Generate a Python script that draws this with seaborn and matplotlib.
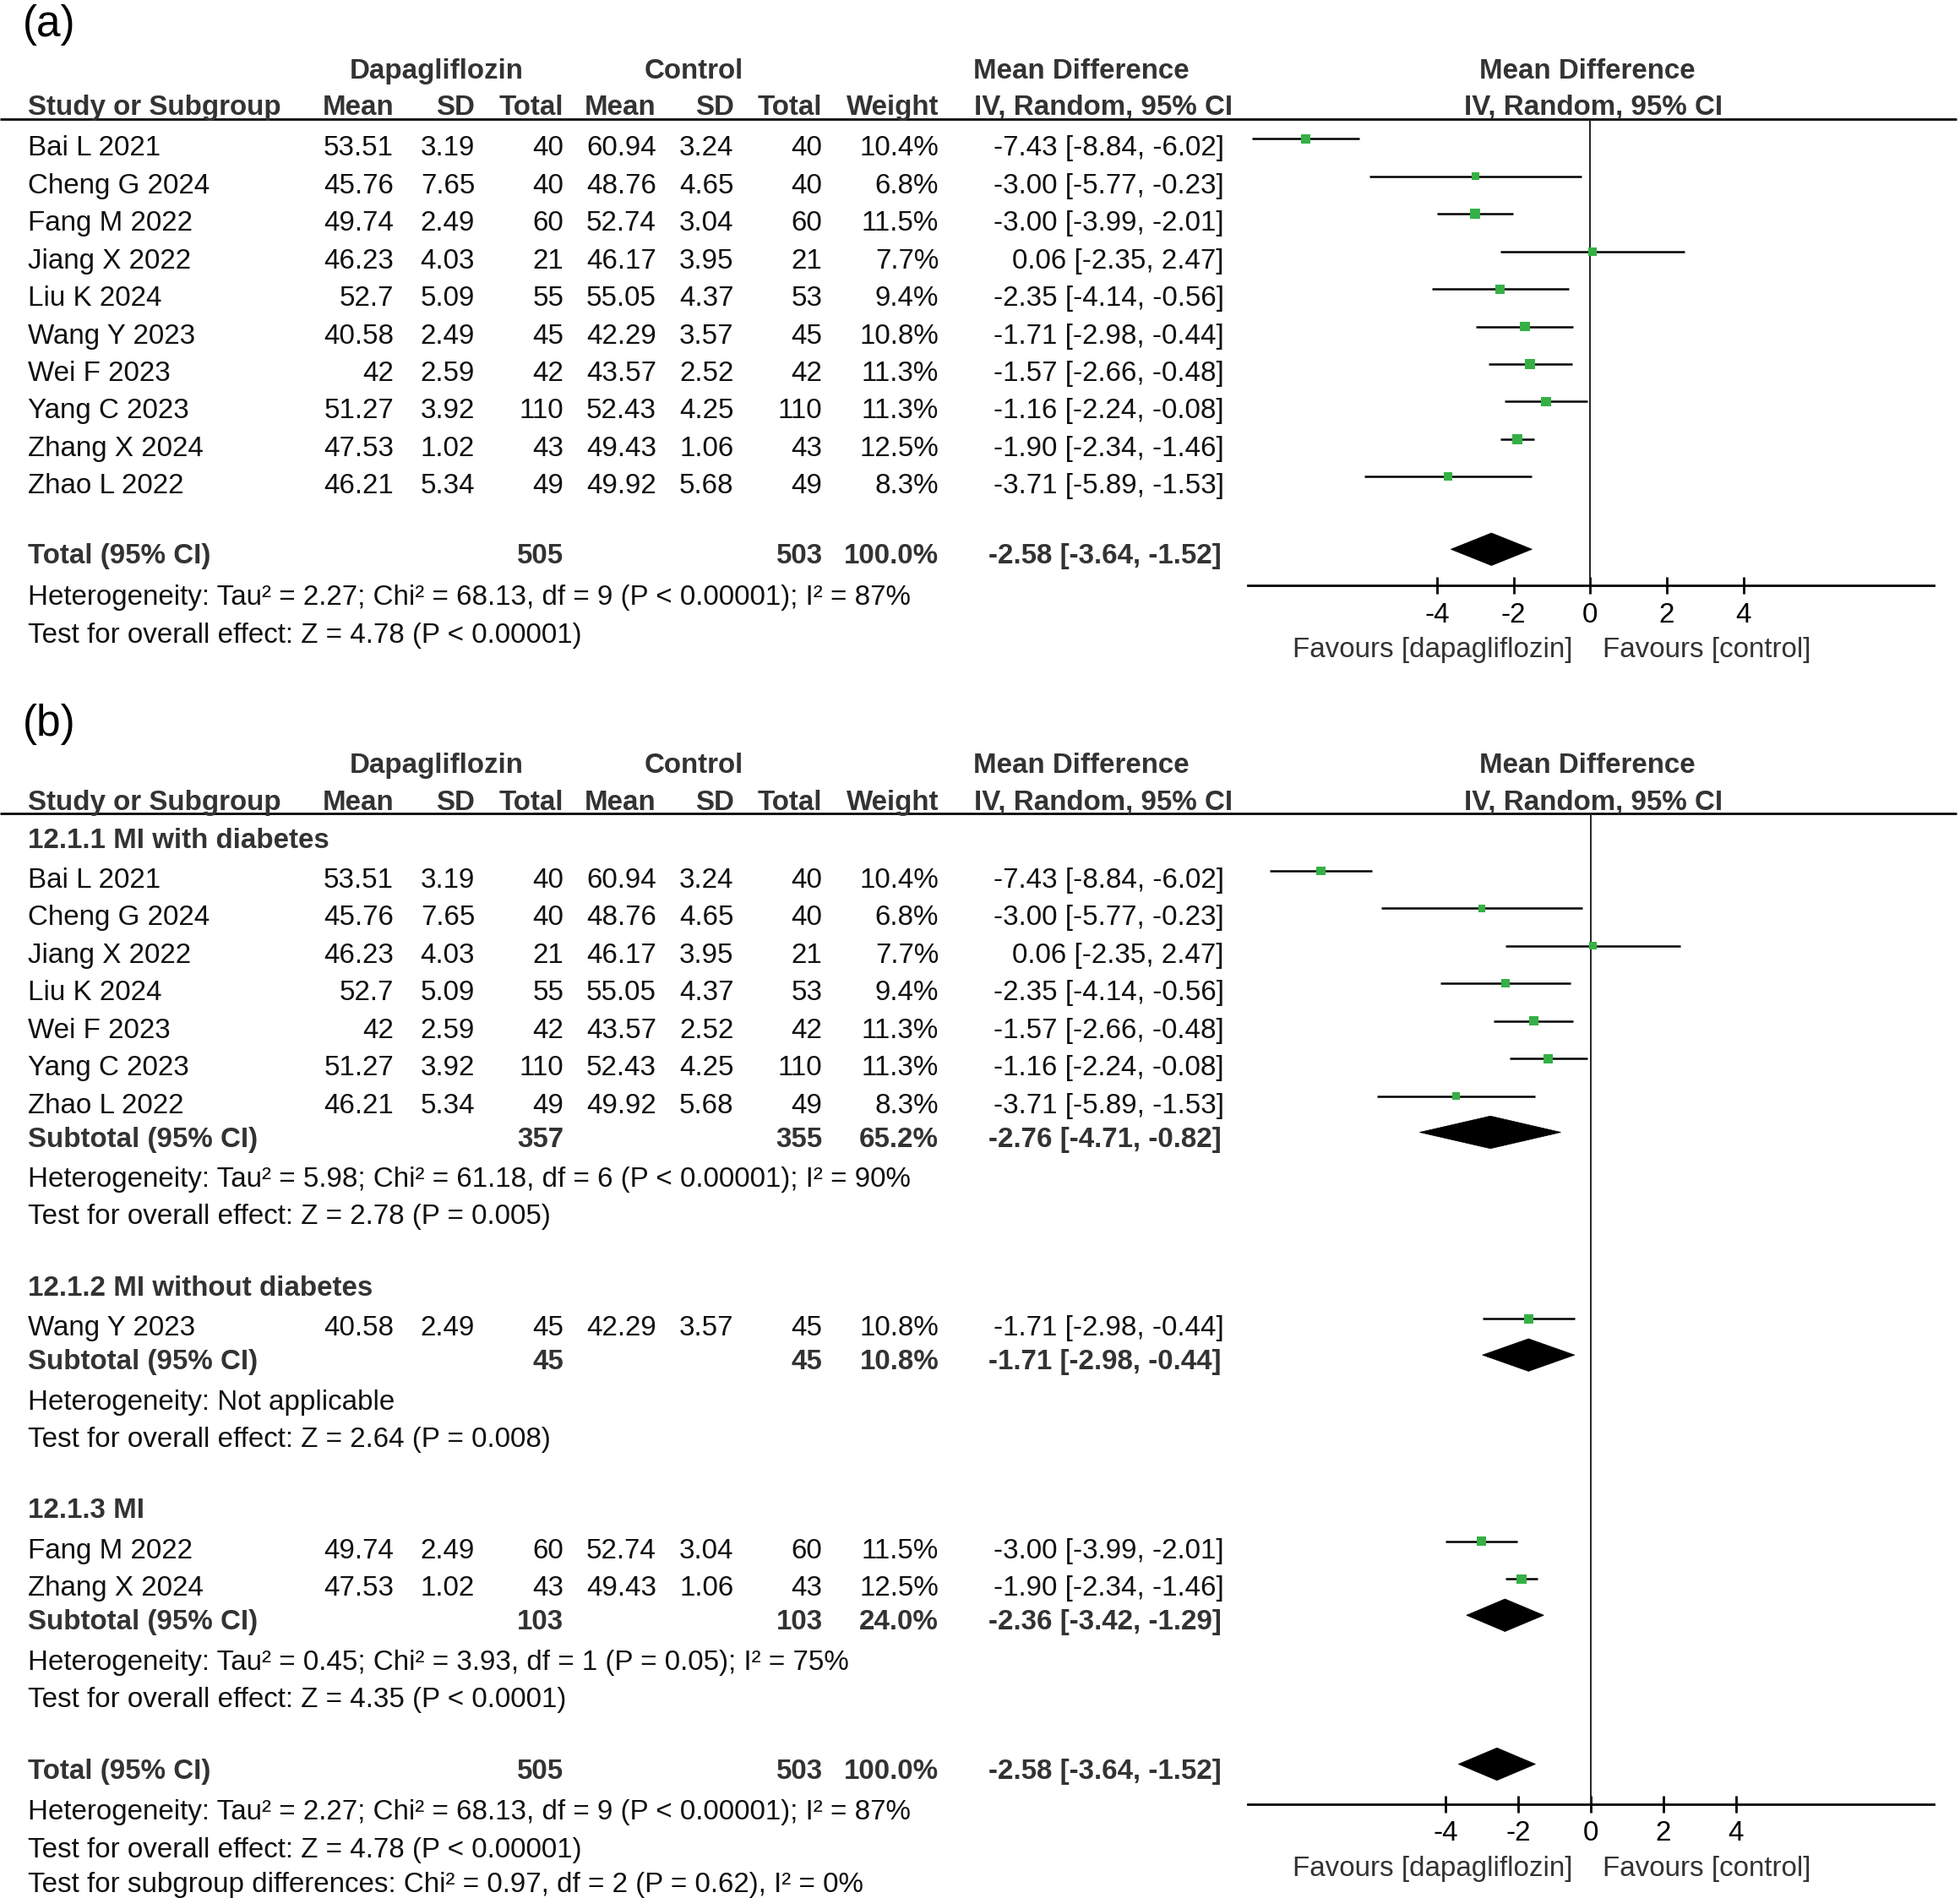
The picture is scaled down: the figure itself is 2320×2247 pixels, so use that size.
import numpy as np
import pandas as pd
import matplotlib
matplotlib.use("Agg")
import matplotlib.pyplot as plt
import seaborn as sns
from matplotlib.patches import Polygon

# ---------------- data ----------------
studies = ["Bai L 2021", "Cheng G 2024", "Fang M 2022", "Jiang X 2022", "Liu K 2024",
           "Wang Y 2023", "Wei F 2023", "Yang C 2023", "Zhang X 2024", "Zhao L 2022"]
dapa_mean = [53.51, 45.76, 49.74, 46.23, 52.7, 40.58, 42, 51.27, 47.53, 46.21]
dapa_sd = [3.19, 7.65, 2.49, 4.03, 5.09, 2.49, 2.59, 3.92, 1.02, 5.34]
dapa_n = [40, 40, 60, 21, 55, 45, 42, 110, 43, 49]
ctrl_mean = [60.94, 48.76, 52.74, 46.17, 55.05, 42.29, 43.57, 52.43, 49.43, 49.92]
ctrl_sd = [3.24, 4.65, 3.04, 3.95, 4.37, 3.57, 2.52, 4.25, 1.06, 5.68]
ctrl_n = [40, 40, 60, 21, 53, 45, 42, 110, 43, 49]
weight = [10.4, 6.8, 11.5, 7.7, 9.4, 10.8, 11.3, 11.3, 12.5, 8.3]
md = [-7.43, -3.00, -3.00, 0.06, -2.35, -1.71, -1.57, -1.16, -1.90, -3.71]
ci_lo = [-8.84, -5.77, -3.99, -2.35, -4.14, -2.98, -2.66, -2.24, -2.34, -5.89]
ci_hi = [-6.02, -0.23, -2.01, 2.47, -0.56, -0.44, -0.48, -0.08, -1.46, -1.53]
subgroup = [0, 0, 2, 0, 0, 1, 0, 0, 2, 0]

sub_names = ["12.1.1 MI with diabetes", "12.1.2 MI without diabetes", "12.1.3 MI"]
sub_n_dapa = [357, 45, 103]
sub_n_ctrl = [355, 45, 103]
sub_weight = [65.2, 10.8, 24.0]
sub_md = [-2.76, -1.71, -2.36]
sub_lo = [-4.71, -2.98, -3.42]
sub_hi = [-0.82, -0.44, -1.29]
sub_het = ["Heterogeneity: Tau² = 5.98; Chi² = 61.18, df = 6 (P < 0.00001); I² = 90%",
           "Heterogeneity: Not applicable",
           "Heterogeneity: Tau² = 0.45; Chi² = 3.93, df = 1 (P = 0.05); I² = 75%"]
sub_test = ["Test for overall effect: Z = 2.78 (P = 0.005)",
            "Test for overall effect: Z = 2.64 (P = 0.008)",
            "Test for overall effect: Z = 4.35 (P < 0.0001)"]

total_n_dapa = 505
total_n_ctrl = 503
total_weight = 100.0
total_md, total_lo, total_hi = -2.58, -3.64, -1.52
total_het = "Heterogeneity: Tau² = 2.27; Chi² = 68.13, df = 9 (P < 0.00001); I² = 87%"
total_test = "Test for overall effect: Z = 4.78 (P < 0.00001)"
subgroup_diff = "Test for subgroup differences: Chi² = 0.97, df = 2 (P = 0.62), I² = 0%"

tick_vals = [-4, -2, 0, 2, 4]
favours_left = "Favours [dapagliflozin]"
favours_right = "Favours [control]"

df = pd.DataFrame(dict(study=studies, m1=dapa_mean, s1=dapa_sd, n1=dapa_n,
                       m2=ctrl_mean, s2=ctrl_sd, n2=ctrl_n, weight=weight,
                       md=md, lo=ci_lo, hi=ci_hi, sub=subgroup))

# ---------------- style ----------------
sns.set_theme(style="white")
plt.rcParams['font.family'] = ['Liberation Sans', 'DejaVu Sans']
plt.rcParams['axes.unicode_minus'] = False

W, H = 1568, 1517
FS = 23.9
GREEN = "#35b045"
BOLDC = "#333333"
TXTC = "#111111"

fig = plt.figure(figsize=(23.2, 22.47), dpi=100)
base = fig.add_axes([0, 0, 1, 1])
base.set_xlim(0, W)
base.set_ylim(H, 0)
base.axis('off')


def txt(x, y, s, ha='left', bold=False, color=None, size=FS, dy=7.5):
    base.text(x, y + dy, s, ha=ha, va='baseline', fontsize=size,
              fontweight='bold' if bold else 'normal',
              color=color or (BOLDC if bold else TXTC))


COLS = dict(m1=315, s1=380, n1=451, m2=525, s2=587, n2=658, w=751, ci=979)


def fmt(v):
    return f"{v:g}"


def ci_str(m, l, h):
    return f"{m:.2f} [{l:.2f}, {h:.2f}]"


def header(y1, y2, yline):
    txt(349, y1, "Dapagliflozin", ha='center', bold=True)
    txt(555, y1, "Control", ha='center', bold=True)
    txt(865, y1, "Mean Difference", ha='center', bold=True)
    txt(1270, y1, "Mean Difference", ha='center', bold=True)
    txt(22, y2, "Study or Subgroup", bold=True)
    txt(COLS['m1'], y2, "Mean", ha='right', bold=True)
    txt(COLS['s1'], y2, "SD", ha='right', bold=True)
    txt(COLS['n1'], y2, "Total", ha='right', bold=True)
    txt(COLS['m2'], y2, "Mean", ha='right', bold=True)
    txt(COLS['s2'], y2, "SD", ha='right', bold=True)
    txt(COLS['n2'], y2, "Total", ha='right', bold=True)
    txt(COLS['w'], y2, "Weight", ha='right', bold=True)
    txt(779, y2, "IV, Random, 95% CI", bold=True)
    txt(1275, y2, "IV, Random, 95% CI", ha='center', bold=True)
    base.plot([0, 1565], [yline, yline], color='black', lw=2.0, solid_capstyle='butt')


def study_row(r, y):
    txt(22, y, r.study)
    txt(COLS['m1'], y, fmt(r.m1), ha='right')
    txt(COLS['s1'], y, fmt(r.s1), ha='right')
    txt(COLS['n1'], y, str(r.n1), ha='right')
    txt(COLS['m2'], y, fmt(r.m2), ha='right')
    txt(COLS['s2'], y, fmt(r.s2), ha='right')
    txt(COLS['n2'], y, str(r.n2), ha='right')
    txt(COLS['w'], y, f"{r.weight:.1f}%", ha='right')
    txt(COLS['ci'], y, ci_str(r.md, r.lo, r.hi), ha='right')


def summary_row(label, y, n1, n2, w, m, l, h):
    txt(22, y, label, bold=True)
    txt(COLS['n1'], y, str(n1), ha='right', bold=True)
    txt(COLS['n2'], y, str(n2), ha='right', bold=True)
    txt(COLS['w'], y, f"{w:.1f}%", ha='right', bold=True)
    txt(977, y, ci_str(m, l, h), ha='right', bold=True)


def forest(y_top, y_bot, xlim, rows, diamonds, fav_y, msize):
    ax = fig.add_axes([998 / W, 1 - y_bot / H, (1547 - 998) / W, (y_bot - y_top) / H])
    ax.patch.set_alpha(0)
    ax.plot([0, 0], [y_top, y_bot], color='#222222', lw=1.4)
    ax.hlines(rows['y'], rows['lo'], rows['hi'], color='black', lw=1.8)
    sns.scatterplot(data=rows, x='md', y='y', size='weight', sizes=(0, msize),
                    size_norm=(0, 12.5), marker='s', color=GREEN, linewidth=0,
                    legend=False, ax=ax, zorder=3)
    for (m, l, h, y) in diamonds:
        ax.add_patch(Polygon([(l, y), (m, y - 13), (h, y), (m, y + 13)],
                             closed=True, facecolor='black', edgecolor='black', lw=0.5))
    ax.set_xlim(*xlim)
    ax.set_ylim(y_bot, y_top)
    for s in ['top', 'left', 'right']:
        ax.spines[s].set_visible(False)
    ax.spines['bottom'].set_linewidth(2.0)
    ax.spines['bottom'].set_color('black')
    ax.set_xticks(tick_vals)
    ax.set_xticklabels([str(t) for t in tick_vals])
    ax.set_yticks([])
    ax.set_xlabel('')
    ax.set_ylabel('')
    ax.tick_params(axis='x', direction='inout', length=14, width=2.0, labelsize=FS,
                   pad=7, colors='black', bottom=True)
    txt(1258, fav_y, favours_left, ha='right', color='#333333')
    txt(1282, fav_y, favours_right, ha='left', color='#333333')
    return ax


# ---------------- panel (a) ----------------
txt(18, 29, "(a)", size=37, color='black', dy=0)
header(55, 84, 95)
ya = [117 + 30 * i for i in range(len(df))]
for i, r in enumerate(df.itertuples()):
    study_row(r, ya[i])
ytot_a = ya[-1] + 56
summary_row("Total (95% CI)", ytot_a, total_n_dapa, total_n_ctrl, total_weight,
            total_md, total_lo, total_hi)
txt(22, ytot_a + 33, total_het)
txt(22, ytot_a + 63, total_test)

rows_a = df.copy()
rows_a['y'] = [y - 6 for y in ya]
forest(95, 468, (-8.95, 8.97), rows_a,
       [(total_md, total_lo, total_hi, ytot_a - 4)], 518, 80)

# ---------------- panel (b) ----------------
txt(18, 588, "(b)", size=37, color='black', dy=0)
header(610, 640, 650)
y = 670
rows_b = []
diamonds_b = []
for g in range(3):
    txt(22, y, sub_names[g], bold=True)
    sub = df[df['sub'] == g]
    y += 32
    for k, r in enumerate(sub.itertuples()):
        if k > 0:
            y += 30
        study_row(r, y)
        rows_b.append(dict(md=r.md, lo=r.lo, hi=r.hi, weight=r.weight, y=y - 6))
    y += 27
    summary_row("Subtotal (95% CI)", y, sub_n_dapa[g], sub_n_ctrl[g], sub_weight[g],
                sub_md[g], sub_lo[g], sub_hi[g])
    diamonds_b.append((sub_md[g], sub_lo[g], sub_hi[g], y - 4))
    y += 32
    txt(22, y, sub_het[g])
    y += 30
    txt(22, y, sub_test[g])
    y += 57
summary_row("Total (95% CI)", y, total_n_dapa, total_n_ctrl, total_weight,
            total_md, total_lo, total_hi)
diamonds_b.append((total_md, total_lo, total_hi, y - 4))
txt(22, y + 33, total_het)
txt(22, y + 63, total_test)
txt(22, y + 91, subgroup_diff)

rows_b = pd.DataFrame(rows_b)
forest(650, 1442, (-9.45, 9.45), rows_b, diamonds_b, 1492, 68)

fig.savefig("out.png", dpi=100)
